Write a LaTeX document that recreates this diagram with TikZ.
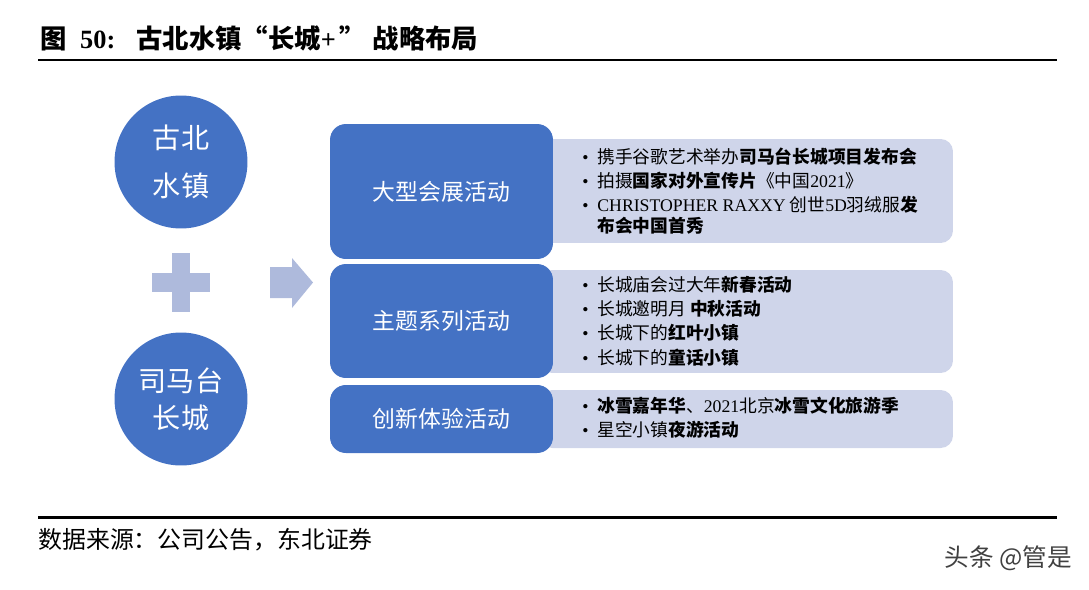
\documentclass[tikz,border=0pt]{standalone}
\usepackage{fontspec}
\setmainfont{Noto Sans CJK SC}
\newfontfamily\lat{Liberation Serif}
\usetikzlibrary{positioning}

\definecolor{hubblue}{RGB}{68,114,196}
\definecolor{panel}{RGB}{207,213,234}
\definecolor{joiner}{RGB}{174,186,220}

\newcommand{\bul}{{\lat\textbullet}\hspace{5pt}}
\newcommand{\hang}{\hphantom{\bul}}

\begin{document}
\begin{tikzpicture}[
  x=0.02cm, y=-0.02cm,
  hub/.style={circle, fill=hubblue, minimum size=2.66cm, text=white,
              align=center, inner sep=0pt},
  act/.style={rectangle, rounded corners=9pt, fill=hubblue, text=white,
              minimum width=4.46cm, font=\fontsize{13}{16}\selectfont},
  panelbox/.style={rectangle, rounded corners=7pt, fill=panel, minimum width=8.26cm},
  items/.style={anchor=west, align=left, inner sep=0pt,
                font=\fontsize{10.1}{13.8}\selectfont}
]
\useasboundingbox (0,0) rectangle (1089,589);

\node[anchor=west, inner sep=0pt, font=\fontsize{15}{17}\selectfont\bfseries] (title) at (40,38)
  {图\hspace{7.7pt}{\lat 50:}\hspace{12pt}古北水镇\makebox[1em][r]{“}长城{\lat+}\makebox[1em][l]{\hspace{2pt}”}\hspace{6pt}战略布局};
\draw[line width=1.7pt] (38,60) -- (1057,60);
\draw[line width=1.7pt] (38,517) -- (1057,517);
\node[anchor=west, inner sep=0pt, font=\fontsize{13.6}{15}\selectfont] (source) at (38,540)
  {数据来源：公司公告，东北证券};
\node[anchor=east, inner sep=0pt, text=black!75, font=\fontsize{14}{16}\selectfont] (mark) at (1072,558)
  {头条 @管是};

\node[hub, font=\fontsize{16}{27.5}\selectfont] (gubei) at (181,162) {古北\\水镇};
\node[hub, font=\fontsize{16}{21}\selectfont] (simatai) at (181,399) {司马台\\长城};

\fill[joiner] (152,273) rectangle (210,292);
\fill[joiner] (172,253) rectangle (190,312);
\fill[joiner] (270,267) -- (292,267) -- (292,258) -- (313,282.5)
  -- (292,308) -- (292,298) -- (270,298) -- cycle;

\node[panelbox, minimum height=2.08cm] (p1) at (746.5,191) {};
\node[panelbox, minimum height=2.06cm] (p2) at (746.5,321.5) {};
\node[panelbox, minimum height=1.16cm] (p3) at (746.5,419) {};

\node[act, minimum height=2.70cm] (a1) at (441.5,191.5) {大型会展活动};
\node[act, minimum height=2.28cm] (a2) at (441.5,321) {主题系列活动};
\node[act, minimum height=1.36cm] (a3) at (441.5,419) {创新体验活动};

\node[items] (l1) at (582,191) {%
  \bul 携手谷歌艺术举办\textbf{司马台长城项目发布会}\\
  \bul 拍摄\textbf{国家对外宣传片}《中国{\lat 2021}》\\
  \bul {\lat CHRISTOPHER RAXXY} 创世{\lat 5D}羽绒服\textbf{发}\\[-2pt]
  \hang\textbf{布会中国首秀}};
\node[items] (l2) at (582,321) {%
  \bul 长城庙会过大年\textbf{新春活动}\\
  \bul 长城邀明月 \textbf{中秋活动}\\
  \bul 长城下的\textbf{红叶小镇}\\
  \bul 长城下的\textbf{童话小镇}};
\node[items] (l3) at (582,417.5) {%
  \bul \textbf{冰雪嘉年华}、{\lat 2021}北京\textbf{冰雪文化旅游季}\\
  \bul 星空小镇\textbf{夜游活动}};
\end{tikzpicture}
\end{document}
